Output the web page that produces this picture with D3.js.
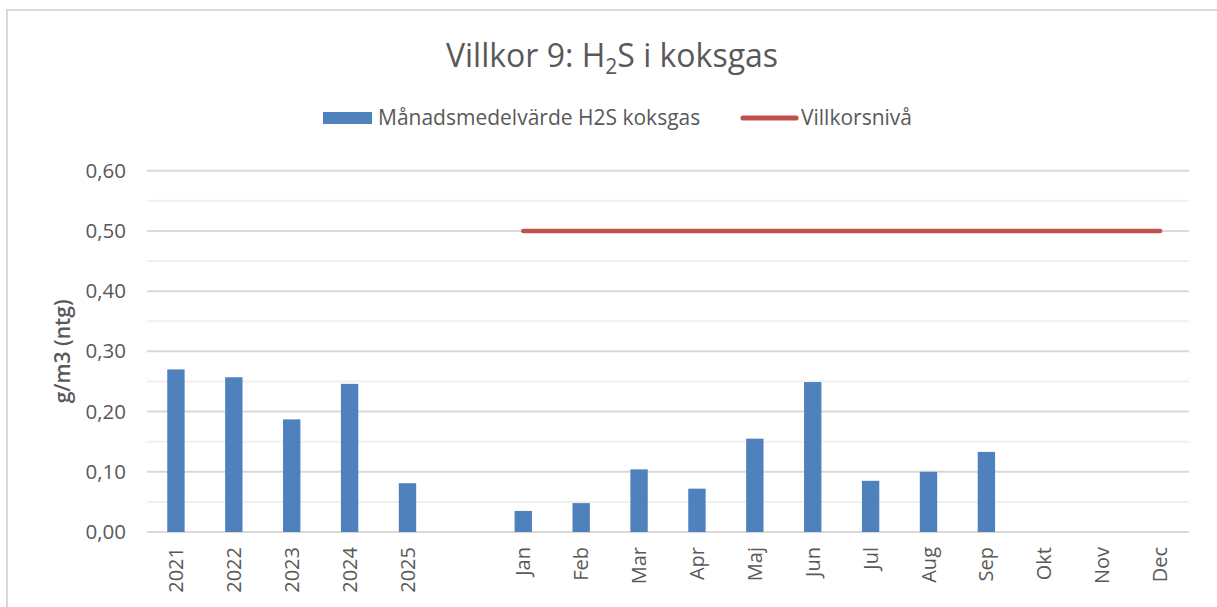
<!DOCTYPE html>
<html>
<head>
<meta charset="utf-8">
<script src="https://cdn.jsdelivr.net/npm/d3@7"></script>
<style>
  body { margin: 0; background: #fff; }
  text { font-family: "Open Sans", sans-serif; fill: #595959; }
</style>
</head>
<body>
<div id="chart"></div>
<script>
// data
var categories = ["2021", "2022", "2023", "2024", "2025", "",
  "Jan", "Feb", "Mar", "Apr", "Maj", "Jun", "Jul", "Aug", "Sep", "Okt", "Nov", "Dec"];
var monthlyMean = [0.270, 0.257, 0.187, 0.246, 0.081, null,
  0.035, 0.048, 0.104, 0.072, 0.155, 0.249, 0.085, 0.100, 0.133, null, null, null];
var limitLevel = [null, null, null, null, null, null,
  0.5, 0.5, 0.5, 0.5, 0.5, 0.5, 0.5, 0.5, 0.5, 0.5, 0.5, 0.5];
var yTicks = [0, 0.1, 0.2, 0.3, 0.4, 0.5, 0.6];
var seriesNames = ["Månadsmedelvärde H2S koksgas", "Villkorsnivå"];

var svgWidth = 1217;
var svgHeight = 607;

var margin = { top: 170.7, right: 28, bottom: 75, left: 147 };
var width = svgWidth - margin.left - margin.right;
var height = 532 - margin.top;

var svg = d3.select("#chart")
  .append("svg")
  .attr("width", svgWidth)
  .attr("height", svgHeight);

svg.append("rect")
  .attr("width", svgWidth)
  .attr("height", svgHeight)
  .attr("fill", "#fff");

// chart border (only top and left visible in the crop)
svg.append("rect")
  .attr("x", 7)
  .attr("y", 10)
  .attr("width", 1300)
  .attr("height", 700)
  .attr("fill", "none")
  .attr("stroke", "#d9d9d9")
  .attr("stroke-width", 2);

var chartGroup = svg.append("g")
  .attr("transform", `translate(${margin.left}, ${margin.top})`);

var x = d3.scaleBand()
  .domain(categories)
  .range([0, width])
  .paddingInner(0)
  .paddingOuter(0);

var y = d3.scaleLinear()
  .domain([0, 0.6])
  .range([height, 0]);

var locale = d3.formatLocale({ decimal: ",", thousands: " ", grouping: [3], currency: ["", " kr"] });
var fmt = locale.format(".2f");

// minor + major gridlines
var gridVals = d3.range(0, 0.6001, 0.05);
chartGroup.selectAll(".grid")
  .data(gridVals)
  .enter()
  .append("line")
  .attr("x1", 0)
  .attr("x2", width)
  .attr("y1", d => y(d))
  .attr("y2", d => y(d))
  .attr("stroke", (d, i) => i % 2 === 0 ? "#d9d9d9" : "#f0f0f0")
  .attr("stroke-width", 2);

// y axis
var leftAxis = d3.axisLeft(y).tickValues(yTicks).tickSize(0).tickPadding(21).tickFormat(fmt);
var yAxis = chartGroup.append("g").call(leftAxis);
yAxis.select(".domain").remove();
yAxis.selectAll("text")
  .attr("font-size", 20.5)
  .attr("fill", "#595959")
  .style("font-family", "'Open Sans', sans-serif");

// x axis
var bottomAxis = d3.axisBottom(x).tickSize(0);
var xAxis = chartGroup.append("g")
  .attr("transform", `translate(0, ${height})`)
  .call(bottomAxis);
xAxis.select(".domain").remove();
xAxis.selectAll("text")
  .attr("font-size", 20)
  .attr("fill", "#595959")
  .style("font-family", "'Open Sans', sans-serif")
  .attr("transform", "rotate(-90)")
  .attr("text-anchor", "end")
  .attr("x", -15)
  .attr("y", 0)
  .attr("dy", "0.35em");

// bars
var barW = x.bandwidth() * 0.3;
chartGroup.selectAll(".bar")
  .data(categories.map((c, i) => ({ cat: c, v: monthlyMean[i] })).filter(d => d.v !== null))
  .enter()
  .append("rect")
  .attr("class", "bar")
  .attr("x", d => x(d.cat) + (x.bandwidth() - barW) / 2)
  .attr("y", d => y(d.v))
  .attr("width", barW)
  .attr("height", d => height - y(d.v))
  .attr("fill", "#4f81bd");

// limit line
var line = d3.line()
  .defined(d => d.v !== null)
  .x(d => x(d.cat) + x.bandwidth() / 2)
  .y(d => y(d.v));

chartGroup.append("path")
  .datum(categories.map((c, i) => ({ cat: c, v: limitLevel[i] })))
  .attr("d", line)
  .attr("fill", "none")
  .attr("stroke", "#c0504d")
  .attr("stroke-width", 4.5)
  .attr("stroke-linecap", "round");

// y axis title
svg.append("text")
  .attr("transform", `translate(70, ${margin.top + height / 2}) rotate(-90)`)
  .attr("text-anchor", "middle")
  .attr("font-size", 21)
  .attr("font-weight", 600)
  .text("g/m3 (ntg)");

// title
var title = svg.append("text")
  .attr("x", 612)
  .attr("y", 67)
  .attr("text-anchor", "middle")
  .attr("font-size", 32);
title.append("tspan").text("Villkor 9: H");
title.append("tspan").attr("font-size", 21).attr("dy", 7).text("2");
title.append("tspan").attr("dy", -7).text("S i koksgas");

// legend
var legend = svg.append("g");
legend.append("rect")
  .attr("x", 323).attr("y", 112)
  .attr("width", 49).attr("height", 12)
  .attr("fill", "#4f81bd");
legend.append("text")
  .attr("x", 378).attr("y", 118).attr("dy", "0.35em")
  .attr("font-size", 21)
  .text(seriesNames[0]);
legend.append("line")
  .attr("x1", 743).attr("x2", 796)
  .attr("y1", 118).attr("y2", 118)
  .attr("stroke", "#c0504d")
  .attr("stroke-width", 5)
  .attr("stroke-linecap", "round");
legend.append("text")
  .attr("x", 801).attr("y", 118).attr("dy", "0.35em")
  .attr("font-size", 21)
  .text(seriesNames[1]);
</script>
</body>
</html>
